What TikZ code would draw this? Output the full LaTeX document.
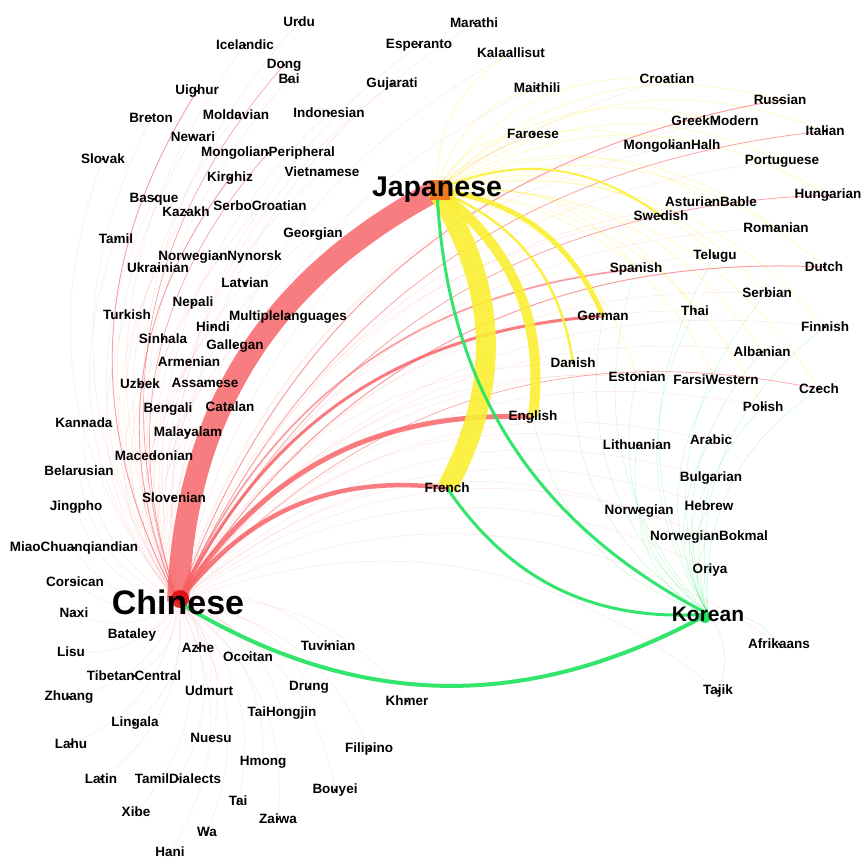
\documentclass[tikz,border=0pt]{standalone}
\usepackage{fontspec}
\setmainfont{Liberation Sans}
\usetikzlibrary{positioning}
\pgfdeclarelayer{edges}
\pgfsetlayers{edges,main}
\definecolor{zhred}{RGB}{246,92,96}
\definecolor{jayellow}{RGB}{250,238,50}
\definecolor{kogreen}{RGB}{40,228,100}
\definecolor{jaorange}{RGB}{240,120,30}

\newcommand{\leftlangs}{urdu/299/22/Urdu, icel/245/45/Icelandic, espe/419/45/Esperanto,
  mara/474/23/Marathi, kala/511/53/Kalaallisut, dong/284/65/Dong, bai/289/79/Bai,
  guja/392/84/Gujarati, uigh/197/91/Uighur, mait/537/88/Maithili, bret/151/118/Breton,
  mold/236/115/Moldavian, indo/329/113/Indonesian, newa/193/137/Newari, slvk/103/159/Slovak,
  mngp/268/153/MongolianPeripheral, viet/322/172/Vietnamese, kirg/230/178/Kirghiz,
  basq/154/199/Basque, kaza/186/212/Kazakh, serc/260/206/SerboCroatian, tami/116/239/Tamil,
  geor/313/234/Georgian, nyno/220/257/NorwegianNynorsk, ukra/158/268/Ukrainian,
  latv/245/283/Latvian, nepa/193/303/Nepali, turk/127/315/Turkish,
  mult/288/317/Multiplelanguages, hind/213/327/Hindi, sinh/163/339/Sinhala,
  gall/235/346/Gallegan, arme/189/362/Armenian, uzbe/140/384/Uzbek, assa/205/383/Assamese,
  beng/168/409/Bengali, cata/230/407/Catalan, kann/84/423/Kannada, maly/188/433/Malayalam,
  mace/154/456/Macedonian, bela/79/471/Belarusian, slvn/174/498/Slovenian,
  jing/76/507/Jingpho, miao/74/548/MiaoChuanqiandian, cors/75/582/Corsican, naxi/74/613/Naxi,
  batl/132/635/Bataley, lisu/71/652/Lisu, azhe/198/648/Azhe, occi/248/657/Occitan,
  tuvi/328/646/Tuvinian, tibe/134/676/TibetanCentral, zhua/69/697/Zhuang, udmu/209/691/Udmurt,
  drun/309/687/Drung, khme/407/701/Khmer, taih/282/713/TaiHongjin, ling/135/723/Lingala,
  nues/211/738/Nuesu, lahu/71/744/Lahu, fili/369/749/Filipino, hmon/263/762/Hmong,
  lati/101/779/Latin, tamd/178/779/TamilDialects, bouy/335/790/Bouyei, tai/238/801/Tai,
  xibe/136/812/Xibe, zaiw/278/819/Zaiwa, wa/207/832/Wa, hani/170/852/Hani}

\newcommand{\rightlangs}{croa/667/79/Croatian, russ/780/100/Russian, gree/715/121/GreekModern,
  ital/825/131/Italian, fare/533/134/Faroese, mngh/672/146/MongolianHalh,
  port/782/161/Portuguese, hung/828/195/Hungarian, astu/711/202/AsturianBable,
  swed/661/216/Swedish, roma/776/228/Romanian, telu/715/256/Telugu, span/636/269/Spanish,
  dutc/824/267/Dutch, serb/767/293/Serbian, thai/695/311/Thai, germ/603/316/German,
  finn/825/327/Finnish, alba/762/352/Albanian, dani/573/363/Danish, esto/637/377/Estonian,
  fars/716/380/FarsiWestern, czec/819/389/Czech, poli/763/407/Polish, engl/533/417/English,
  lith/637/445/Lithuanian, arab/711/440/Arabic, bulg/711/478/Bulgarian, fren/447/488/French,
  norw/639/511/Norwegian, hebr/709/506/Hebrew, bokm/709/537/NorwegianBokmal,
  oriy/710/570/Oriya, afri/779/644/Afrikaans, taji/718/691/Tajik}

\begin{document}
\begin{tikzpicture}[x=1pt, y=1pt,
    lang/.style={font=\bfseries\fontsize{13.5}{15}\selectfont, inner sep=0.5pt},
    hub/.style={font=\bfseries, inner sep=0.5pt},
    curved/.style={bend left=30},
    zhfaint/.style={draw=zhred, opacity=0.16, line width=0.5pt},
    jafaint/.style={draw=jayellow, opacity=0.35, line width=0.6pt},
    kofaint/.style={draw=kogreen, opacity=0.25, line width=0.5pt},
    zhlink/.style={draw=zhred, opacity=0.8},
    jalink/.style={draw=jayellow, opacity=0.9},
    kolink/.style={draw=kogreen, opacity=0.95}]
  \useasboundingbox (0,0) rectangle (864,-859);

  \node[hub, font=\bfseries\fontsize{34}{36}\selectfont] (zh) at (178,-602) {Chinese};
  \node[hub, font=\bfseries\fontsize{28.5}{30}\selectfont] (ja) at (437,-190) {Japanese};
  \node[hub, font=\bfseries\fontsize{21}{23}\selectfont] (ko) at (708,-614) {Korean};

  \foreach \n/\x/\y/\t in \leftlangs {
    \node[lang] (\n) at (\x,-\y) {\t};
    \fill (\n.center) circle (1.4pt);
  }
  \foreach \n/\x/\y/\t in \rightlangs {
    \node[lang] (\n) at (\x,-\y) {\t};
    \fill (\n.center) circle (1.4pt);
  }

  \begin{pgfonlayer}{edges}
    \foreach \n/\x/\y/\t in \leftlangs
      \draw[zhfaint] (zh.center) to[curved] (\n.center);
    \foreach \n/\x/\y/\t in \rightlangs
      \draw[zhfaint] (zh.center) to[curved] (\n.center);
    \foreach \n in {croa,russ,gree,ital,fare,mngh,port,hung,astu,roma,telu,span,dutc,serb,
                    thai,finn,alba,esto,fars,czec,poli,mait,kala}
      \draw[jafaint] (ja.center) to[curved] (\n.center);
    \foreach \n in {thai,lith,esto,norw,bulg,hebr,bokm,oriy,arab,fars,poli,engl,germ,dani,
                    span,serb,alba,afri,taji,telu,finn,czec}
      \draw[kofaint] (ko.center) to[curved] (\n.center);

    \foreach \n/\w in {uigh/0.9,kirg/0.9,mngp/0.6,dong/0.6,span/1.8,dutc/1,russ/1,
                       ital/0.7,hung/0.7,czec/0.6}
      \draw[zhlink, opacity=0.55, line width=\w pt] (zh.center) to[curved] (\n.center);
    \draw[zhlink, line width=3pt] (zh.center) to[curved] (germ.center);
    \draw[zhlink, line width=4.5pt] (zh.center) to[curved] (fren.center);
    \draw[zhlink, line width=5pt] (zh.center) to[curved] (engl.center);
    \draw[zhlink, line width=22pt] (zh.center) to[curved] (ja.center);

    \draw[jalink, line width=2pt] (ja.center) to[curved] (swed.center);
    \draw[jalink, line width=2.5pt] (ja.center) to[curved] (dani.center);
    \draw[jalink, line width=5pt] (ja.center) to[curved] (germ.center);
    \draw[jalink, line width=10pt] (ja.center) to[curved] (engl.center);
    \draw[jalink, line width=20pt] (ja.center) to[curved] (fren.center);

    \draw[kolink, line width=3pt] (ko.center) to[curved] (fren.center);
    \draw[kolink, line width=3pt] (ko.center) to[curved] (ja.center);
    \draw[kolink, line width=4pt] (ko.center) to[curved] (zh.center);

    \fill[red!85!black, opacity=0.8] (zh.center) ++(2,3) circle (9pt);
    \fill[jaorange] (ja.center) ++(3,0) +(-10,-10) rectangle +(10,10);
    \fill[kogreen] (ko.center) ++(-3,-3) circle (6pt);
  \end{pgfonlayer}
\end{tikzpicture}
\end{document}
